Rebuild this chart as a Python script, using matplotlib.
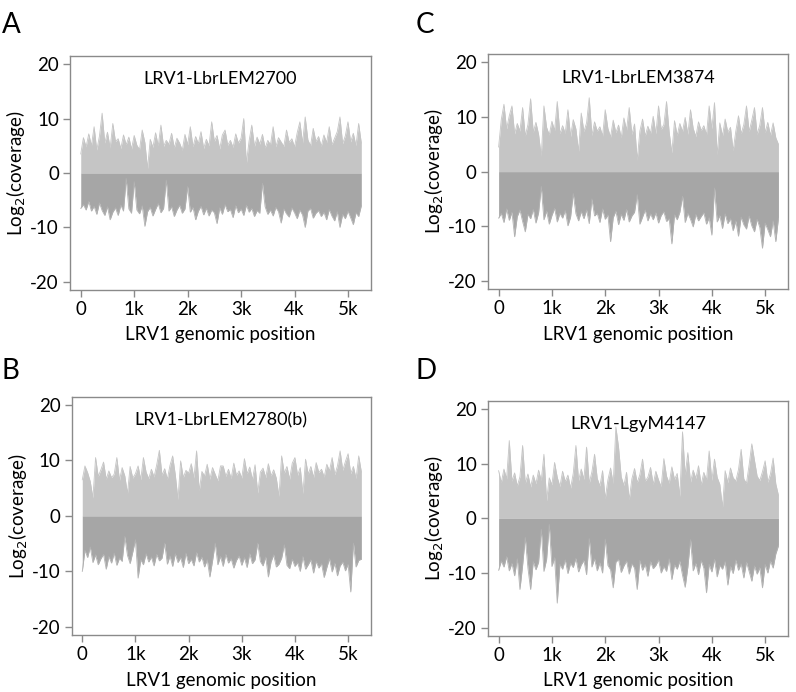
import numpy as np
import matplotlib.pyplot as plt
from matplotlib.ticker import FuncFormatter

plt.rcParams['font.family'] = ['Lato', 'DejaVu Sans']
plt.rcParams['axes.unicode_minus'] = False

# coverage, one value every 50 nt (0 .. 5250)
step = 50

top_a = [3.5, 6.5, 4.8, 7.2, 5.0, 8.5, 4.2, 6.8, 11.0, 5.5,
         7.5, 4.6, 9.1, 5.8, 6.3, 4.5, 7.0, 5.2, 6.6, 4.4,
         6.9, 5.1, 4.3, 7.9, 5.6, 0.8, 6.2, 4.7, 7.4, 5.0,
         8.8, 4.9, 6.0, 5.3, 7.3, 4.6, 6.4, 5.5, 4.2, 7.1,
         5.2, 8.5, 4.8, 6.7, 5.4, 7.6, 4.5, 6.2, 5.0, 9.4,
         5.8, 6.9, 4.4, 7.0, 7.9, 5.1, 6.0, 4.7, 7.2, 5.5,
         6.4, 10.0, 1.8, 5.9, 8.8, 4.9, 6.6, 5.3, 7.1, 4.6,
         6.0, 5.2, 8.5, 4.8, 6.5, 5.7, 4.9, 7.9, 5.6, 6.3,
         4.8, 7.4, 9.4, 5.5, 10.3, 6.1, 5.0, 8.2, 5.8, 6.7,
         4.9, 7.0, 5.6, 8.5, 5.2, 6.4, 7.6, 10.3, 5.4, 6.8,
         9.4, 5.7, 7.3, 5.0, 9.1, 5.5]
bot_a = [-6.5, -5.8, -6.8, -5.2, -7.0, -6.1, -7.6, -5.5, -6.9, -7.8,
         -6.2, -8.6, -7.2, -6.4, -7.8, -5.9, -7.0, -1.0, -6.6, -7.4,
         -1.6, -6.8, -7.5, -6.0, -9.8, -7.1, -6.3, -7.9, -6.7, -5.6,
         -7.3, -6.5, -1.3, -7.0, -6.2, -8.0, -6.8, -5.9, -7.4, -6.6,
         -2.5, -7.2, -6.3, -8.6, -7.0, -6.1, -7.7, -6.5, -7.9, -6.8,
         -7.3, -9.3, -6.4, -7.6, -5.8, -7.1, -6.7, -8.2, -6.0, -7.3,
         -6.6, -7.8, -5.9, -7.2, -6.5, -8.0, -6.9, -7.4, -1.9, -6.2,
         -7.6, -6.8, -7.9, -6.3, -7.1, -9.2, -6.6, -7.5, -8.1, -6.4,
         -7.3, -8.4, -6.8, -7.7, -10.0, -7.0, -6.5, -8.3, -7.4, -6.9,
         -8.0, -7.2, -8.6, -6.7, -7.9, -8.8, -7.1, -10.0, -7.6, -8.4,
         -7.0, -8.2, -9.5, -7.3, -8.0, -6.0]

top_c = [4.5, 9.5, 12.3, 7.8, 10.2, 12.0, 6.9, 8.8, 7.4, 11.7,
         6.5, 8.6, 13.3, 7.2, 9.0, 6.8, 2.8, 12.0, 8.1, 6.7,
         9.2, 7.5, 12.8, 6.9, 8.4, 7.0, 11.3, 6.4, 9.5, 7.8,
         3.7, 10.7, 7.3, 8.9, 13.5, 6.6, 9.1, 7.4, 8.2, 6.5,
         11.3, 7.9, 6.3, 9.4, 7.1, 8.5, 6.2, 9.8, 7.6, 11.7,
         6.8, 8.7, 2.1, 7.4, 9.6, 6.5, 8.3, 7.0, 10.1, 6.9,
         12.0, 7.7, 8.6, 12.8, 7.2, 3.4, 9.3, 6.6, 8.8, 7.3,
         9.9, 6.8, 11.3, 7.9, 6.4, 9.1, 7.5, 8.4, 6.7, 12.0,
         7.8, 12.6, 3.1, 8.9, 6.5, 9.6, 7.2, 8.1, 3.8, 7.4,
         10.2, 6.9, 8.6, 12.0, 7.3, 9.4, 11.7, 6.8, 8.5, 11.7,
         7.1, 9.0, 6.6, 8.9, 6.2, 5.0]
bot_c = [-8.5, -7.6, -9.3, -6.8, -8.9, -7.4, -11.9, -8.2, -7.0, -9.1,
         -11.0, -7.8, -8.6, -6.9, -9.4, -7.5, -2.7, -8.8, -7.2, -9.6,
         -8.0, -6.7, -9.2, -7.6, -8.5, -7.1, -9.9, -8.3, -4.0, -7.7,
         -9.0, -7.3, -8.6, -7.0, -9.5, -5.0, -8.1, -7.6, -9.3, -6.8,
         -8.7, -7.9, -12.8, -8.4, -7.2, -9.7, -7.8, -8.9, -6.9, -9.2,
         -8.1, -7.4, -4.2, -9.6, -8.3, -7.0, -9.0, -7.7, -8.8, -7.5,
         -9.4, -8.0, -7.3, -9.1, -8.6, -13.2, -7.9, -8.8, -7.4, -4.5,
         -9.3, -7.6, -8.7, -10.1, -7.8, -9.0, -8.2, -7.5, -9.6, -8.4,
         -11.6, -3.0, -9.2, -8.0, -10.4, -7.7, -9.5, -8.6, -10.8, -9.0,
         -11.8, -8.3, -9.7, -10.5, -8.1, -9.9, -11.0, -8.7, -10.2, -14.0,
         -9.4, -10.6, -11.9, -9.0, -12.8, -8.5]

top_b = [6.5, 9.0, 7.8, 6.2, 3.2, 10.5, 7.1, 8.3, 9.7, 6.6,
         8.1, 6.9, 7.5, 10.5, 6.4, 8.7, 7.2, 4.0, 8.9, 6.8,
         7.6, 9.0, 6.5, 10.5, 7.9, 6.7, 8.4, 7.0, 9.2, 11.8,
         7.3, 8.5, 6.6, 9.1, 10.8, 7.4, 2.9, 9.9, 6.9, 8.2,
         7.7, 9.4, 6.8, 11.7, 4.5, 8.0, 7.2, 9.3, 6.6, 8.7,
         7.5, 6.3, 9.0, 9.0, 7.1, 8.4, 6.7, 9.5, 7.3, 8.1,
         6.8, 10.3, 7.6, 8.8, 6.5, 9.2, 4.1, 7.9, 8.6, 6.9,
         9.4, 7.2, 8.3, 6.8, 3.5, 10.8, 7.7, 8.9, 6.6, 9.5,
         10.5, 7.3, 8.7, 4.0, 10.2, 7.5, 8.9, 6.9, 9.6, 7.8,
         8.4, 7.0, 9.3, 8.1, 10.5, 7.4, 9.0, 11.7, 8.2, 9.8,
         11.2, 7.6, 8.9, 6.7, 10.8, 7.9]
bot_b = [-10.0, -6.2, -7.5, -5.6, -8.4, -7.0, -8.8, -7.7, -6.9, -9.6,
         -7.3, -8.5, -6.7, -8.9, -7.6, -8.2, -3.7, -7.1, -8.6, -6.5,
         -4.3, -11.2, -7.9, -8.8, -6.8, -8.3, -7.4, -9.0, -6.9, -8.1,
         -7.6, -4.9, -8.7, -7.2, -9.1, -6.8, -8.4, -7.5, -9.3, -6.7,
         -8.6, -7.8, -9.0, -6.6, -8.3, -7.4, -9.2, -7.9, -11.0, -8.1,
         -4.9, -8.8, -7.3, -9.1, -6.9, -8.5, -7.7, -9.4, -8.0, -7.2,
         -8.9, -7.5, -9.3, -6.8, -8.6, -7.9, -4.9, -8.2, -9.0, -7.4,
         -11.0, -8.3, -7.0, -9.2, -8.7, -7.6, -5.2, -8.9, -9.5, -7.8,
         -9.1, -8.4, -10.0, -7.3, -9.6, -8.8, -7.9, -10.3, -8.2, -9.4,
         -8.6, -11.1, -9.3, -7.7, -10.1, -8.5, -10.8, -9.0, -8.3, -9.9,
         -8.7, -13.7, -4.9, -9.2, -8.0, -7.8]

top_d = [8.7, 6.5, 9.0, 7.2, 14.2, 6.8, 8.3, 5.9, 7.6, 13.3,
         6.4, 8.1, 5.7, 7.9, 6.3, 8.8, 6.9, 11.7, 3.2, 7.4,
         6.1, 10.2, 7.5, 5.8, 8.6, 6.7, 7.9, 5.5, 8.2, 13.3,
         6.9, 9.0, 7.1, 13.0, 6.4, 8.5, 11.7, 7.3, 5.9, 8.7,
         3.6, 7.0, 9.2, 6.3, 16.7, 13.0, 7.6, 6.0, 8.4, 3.4,
         7.2, 9.1, 6.5, 8.0, 10.8, 6.8, 7.5, 9.3, 6.2, 8.6,
         7.0, 5.8, 10.9, 7.7, 6.4, 9.4, 7.1, 8.2, 4.0, 15.8,
         7.9, 12.0, 6.6, 8.8, 7.3, 9.6, 6.1, 8.4, 7.0, 12.3,
         6.9, 10.8, 7.5, 6.2, 2.0, 8.7, 6.5, 9.2, 7.4, 6.8,
         8.9, 12.6, 7.2, 6.4, 9.8, 13.6, 10.6, 7.7, 6.9, 8.5,
         10.5, 6.6, 8.1, 11.0, 6.3, 4.2]
bot_d = [-9.5, -7.8, -8.9, -7.0, -9.6, -8.2, -10.5, -7.4, -13.0, -8.6,
         -3.5, -9.1, -13.0, -7.9, -9.4, -8.0, -2.0, -9.7, -7.5, -1.1,
         -8.8, -7.2, -15.5, -8.4, -9.3, -7.6, -10.1, -8.2, -9.0, -7.3,
         -9.8, -8.5, -7.7, -10.3, -3.7, -8.9, -7.4, -9.6, -8.1, -10.0,
         -3.8, -8.6, -9.4, -12.7, -8.0, -7.5, -9.9, -8.7, -7.8, -10.2,
         -8.3, -9.1, -13.0, -7.7, -9.5, -8.4, -10.6, -7.9, -9.2, -8.6,
         -7.6, -10.0, -8.8, -9.7, -7.4, -11.2, -8.5, -9.3, -7.8, -10.4,
         -12.6, -8.9, -3.9, -9.6, -8.2, -10.3, -7.7, -9.1, -13.6, -8.4,
         -9.8, -7.5, -10.7, -8.6, -9.3, -7.9, -12.2, -8.8, -10.1, -7.6,
         -9.5, -8.3, -10.9, -8.0, -9.7, -11.5, -8.7, -10.2, -9.0, -12.7,
         -8.4, -10.0, -7.8, -9.1, -6.5, -5.0]

letters = ['A', 'C', 'B', 'D']
names = ['LRV1-LbrLEM2700', 'LRV1-LbrLEM3874', 'LRV1-LbrLEM2780(b)', 'LRV1-LgyM4147']
tops = [top_a, top_c, top_b, top_d]
bots = [bot_a, bot_c, bot_b, bot_d]

# axes boxes in figure fractions, and where the letters sit
boxes = [[0.088, 0.581, 0.378, 0.338],
         [0.613, 0.582, 0.377, 0.340],
         [0.090, 0.082, 0.376, 0.345],
         [0.613, 0.081, 0.377, 0.340]]
letter_pos = [(0.002, 0.983), (0.522, 0.983), (0.002, 0.482), (0.522, 0.482)]

fig = plt.figure(figsize=(7.96, 6.92), dpi=100)

for box, lp, letter, name, top, bot in zip(boxes, letter_pos, letters, names, tops, bots):
    ax = fig.add_axes(box)
    x = np.arange(len(top)) * step
    ax.fill_between(x, 0, top, color='#c5c5c5', linewidth=0)
    ax.plot(x, top, color='#c5c5c5', lw=0.6)
    ax.fill_between(x, bot, 0, color='#a6a6a6', linewidth=0)
    ax.plot(x, bot, color='#b2b2b2', lw=0.6)

    ax.set_xlim(-200, 5430)
    ax.set_ylim(-21.5, 21.5)
    ax.set_xticks([0, 1000, 2000, 3000, 4000, 5000])
    ax.xaxis.set_major_formatter(FuncFormatter(lambda v, p: '0' if v == 0 else '%dk' % (v / 1000)))
    ax.set_yticks([-20, -10, 0, 10, 20])
    for s in ax.spines.values():
        s.set_color('#8a8a8a')
        s.set_linewidth(1.0)
    ax.tick_params(colors='#8a8a8a', labelcolor='black', labelsize=13.5, length=5, width=1, pad=3)
    ax.set_xlabel('LRV1 genomic position', fontsize=13.5, labelpad=6)
    ax.set_ylabel('Log$_2$(coverage)', fontsize=13.5)
    ax.yaxis.set_label_coords(-0.14, 0.5)
    ax.text(0.5, 0.9, name, transform=ax.transAxes, ha='center', va='center', fontsize=13)
    fig.text(lp[0], lp[1], letter, fontsize=20, ha='left', va='top')

fig.savefig('out.png', dpi=100)
